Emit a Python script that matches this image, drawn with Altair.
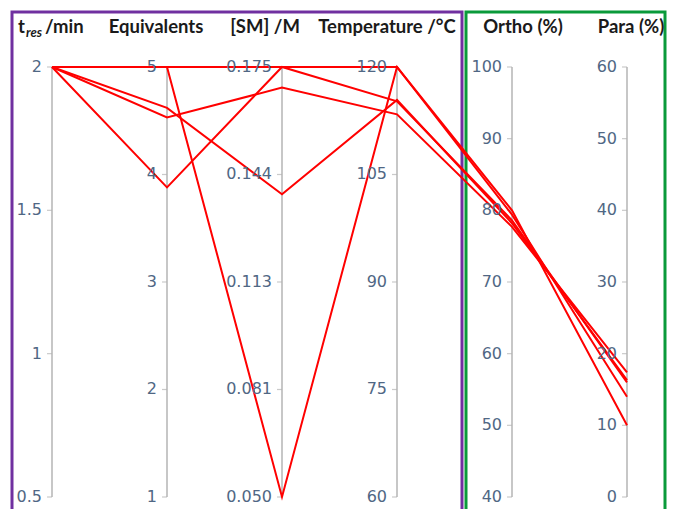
import altair as alt
import pandas as pd

# ---- dimensions ----
dim_titles = ["t_res/min", "Equivalents", "[SM] /M", "Temperature /°C", "Ortho (%)", "Para (%)"]
dim_min = [0.5, 1, 0.050, 60, 40, 0]
dim_max = [2, 5, 0.175, 120, 100, 60]

# ---- series (one value per run on each dimension) ----
runs = ["A", "B", "C", "D", "E"]
t_res = [2, 2, 2, 2, 2]
equivalents = [5, 5, 3.88, 4.53, 4.62]
sm_conc = [0.175, 0.050, 0.175, 0.169, 0.138]
temperature = [120, 120, 115.2, 113.4, 115.4]
ortho = [80.0, 79.4, 78.6, 77.7, 78.2]
para = [10.0, 14.0, 16.0, 17.4, 16.3]

# ---- ticks ----
tick_values = [
    [0.5, 1, 1.5, 2],
    [1, 2, 3, 4, 5],
    [0.050, 0.08125, 0.1125, 0.14375, 0.175],
    [60, 75, 90, 105, 120],
    [40, 50, 60, 70, 80, 90, 100],
    [0, 10, 20, 30, 40, 50, 60],
]
tick_labels = [
    ["0.5", "1", "1.5", "2"],
    ["1", "2", "3", "4", "5"],
    ["0.050", "0.081", "0.113", "0.144", "0.175"],
    ["60", "75", "90", "105", "120"],
    ["40", "50", "60", "70", "80", "90", "100"],
    ["0", "10", "20", "30", "40", "50", "60"],
]

series = [t_res, equivalents, sm_conc, temperature, ortho, para]

def norm(d, v):
    return (v - dim_min[d]) / (dim_max[d] - dim_min[d])

line_rows = []
for d, vals in enumerate(series):
    for r, v in zip(runs, vals):
        line_rows.append({"run": r, "dim": d, "v": norm(d, v)})
lines_df = pd.DataFrame(line_rows)

tick_rows = []
for d in range(len(dim_titles)):
    for tv, tl in zip(tick_values[d], tick_labels[d]):
        tick_rows.append({"dim": d, "v": norm(d, tv), "label": tl})
ticks_df = pd.DataFrame(tick_rows)

axes_df = pd.DataFrame({"dim": list(range(len(dim_titles))), "lo": 0.0, "hi": 1.0, "title": dim_titles})

W, H = 660, 501
xs = alt.Scale(domain=[-0.38261, 5.35652], nice=False, zero=False)
ys = alt.Scale(domain=[-0.027907, 1.137209], nice=False, zero=False)
X = alt.X("dim:Q", scale=xs, axis=None)

axis_lines = alt.Chart(axes_df).mark_rule(color="#b4b4b4", strokeWidth=1.5).encode(
    x=X, y=alt.Y("lo:Q", scale=ys, axis=None), y2="hi:Q"
)

tick_marks = alt.Chart(ticks_df).mark_tick(
    orient="horizontal", size=5, thickness=1.2, color="#b4b4b4", xOffset=-2.5
).encode(x=X, y=alt.Y("v:Q", scale=ys, axis=None))

tick_text = alt.Chart(ticks_df).mark_text(
    align="right", baseline="middle", dx=-10, font="DejaVu Sans", fontSize=16, color="#506784"
).encode(x=X, y=alt.Y("v:Q", scale=ys, axis=None), text="label:N")

lines = alt.Chart(lines_df).mark_line(color="#ff0000", strokeWidth=2).encode(
    x=X, y=alt.Y("v:Q", scale=ys, axis=None), detail="run:N", order="dim:Q"
)

title_font = dict(font="Lato", fontWeight="bold", fontSize=18.5, color="#1a1a1a", baseline="alphabetic")

def title_layer(idx, text, dx, align="center", **kw):
    df = axes_df.iloc[[idx]].copy()
    df["t"] = text
    style = dict(title_font)
    style.update(kw)
    return alt.Chart(df).mark_text(align=align, dx=dx, **style).encode(
        x=X, y=alt.value(25), text="t:N"
    )

t_title = title_layer(0, "t", -34, align="left")
res_df = axes_df.iloc[[0]].copy()
res_df["t"] = "res"
res_title = alt.Chart(res_df).mark_text(
    align="left", dx=-26, font="Lato", fontWeight="bold", fontStyle="italic",
    fontSize=13, color="#1a1a1a", baseline="alphabetic"
).encode(x=X, y=alt.value(29), text="t:N")
min_title = title_layer(0, "/min", -7, align="left")
titles = [
    t_title, res_title, min_title,
    title_layer(1, dim_titles[1], -11),
    title_layer(2, dim_titles[2], -17),
    title_layer(3, dim_titles[3], -10),
    title_layer(4, dim_titles[4], 11),
    title_layer(5, dim_titles[5], 4),
]

box_df = pd.DataFrame({"k": [0]})
purple_box = alt.Chart(box_df).mark_rect(filled=False, stroke="#7030a0", strokeWidth=3).encode(
    x=alt.value(4), x2=alt.value(454), y=alt.value(4), y2=alt.value(530)
)
green_box = alt.Chart(box_df).mark_rect(filled=False, stroke="#0a9a3a", strokeWidth=3).encode(
    x=alt.value(458), x2=alt.value(657), y=alt.value(4), y2=alt.value(530)
)

chart = alt.layer(
    purple_box, green_box, axis_lines, tick_marks, lines, tick_text, *titles
).properties(
    width=W, height=H, autosize=alt.AutoSizeParams(type="none"), padding=0
).configure_view(stroke=None)

chart.save("out.html", embed_options={"renderer": "svg", "actions": False})
